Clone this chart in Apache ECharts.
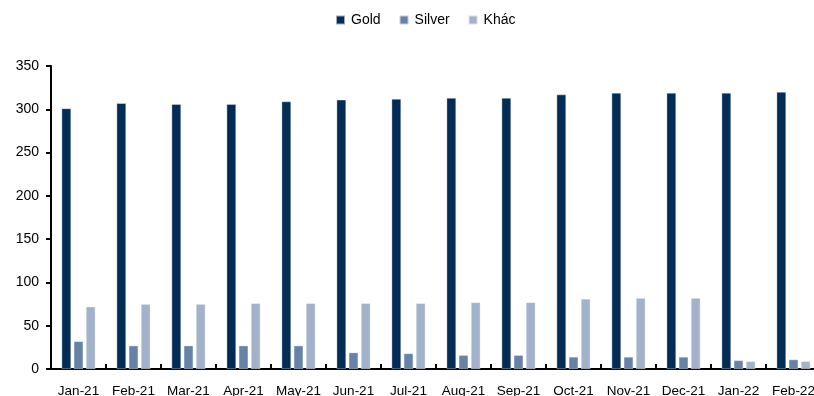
<!DOCTYPE html>
<html><head><meta charset="utf-8">
<script src="https://cdn.jsdelivr.net/npm/echarts@6/dist/echarts.min.js"></script>
<style>html,body{margin:0;padding:0;background:#fff;overflow:hidden;width:814px;height:396px}#c{width:830px;height:396px}</style>
</head><body><div id="c"></div>
<script>
const categories = ['Jan-21','Feb-21','Mar-21','Apr-21','May-21','Jun-21','Jul-21','Aug-21','Sep-21','Oct-21','Nov-21','Dec-21','Jan-22','Feb-22'];
const gold   = [301,307,306,306,309,311,312,313,313,317,319,319,319,320];
const silver = [32,27,27,27,27,19,18,16,16,14,14,14,10,11];
const khac   = [72,75,75,76,76,76,76,77,77,81,82,82,9,9];
const yTicks = [0,50,100,150,200,250,300,350];

const font = 'Liberation Sans';
const chart = echarts.init(document.getElementById('c'));
const mk = (name, data, color) => ({
  name, type: 'bar', data, barWidth: 9.5, barGap: '28%',
  itemStyle: {color, borderColor: 'rgba(255,255,255,0.6)', borderWidth: 0.6},
  emphasis: {disabled: true}
});
chart.setOption({
  animation: false,
  textStyle: {fontFamily: font},
  legend: {
    top: 8, left: 330, itemWidth: 9, itemHeight: 9, itemGap: 18,
    icon: 'rect',
    textStyle: {fontFamily: font, fontSize: 14, color: '#000', padding: [0,0,0,1]},
    data: ['Gold','Silver','Khác']
  },
  grid: {left: 51, top: 66, width: 770, bottom: 27, containLabel: false, outerBoundsMode: 'none'},
  xAxis: {
    type: 'category', data: categories,
    axisLine: {lineStyle: {color: '#000', width: 2}},
    axisTick: {show: true, inside: true, length: 5, lineStyle: {color: '#000', width: 2}},
    axisLabel: {fontFamily: font, fontSize: 13.5, color: '#000', margin: 15, interval: 0},
    splitLine: {show: false}
  },
  yAxis: {
    type: 'value', min: yTicks[0], max: yTicks[yTicks.length-1], interval: 50,
    axisLine: {show: true, lineStyle: {color: '#000', width: 2}},
    axisTick: {show: true, length: 5, lineStyle: {color: '#000', width: 2}},
    axisLabel: {fontFamily: font, fontSize: 14, color: '#000', margin: 12},
    splitLine: {show: false}
  },
  series: [
    mk('Gold', gold, '#032C57'),
    mk('Silver', silver, '#6682A8'),
    mk('Khác', khac, '#A3B2CB')
  ]
});
</script></body></html>
